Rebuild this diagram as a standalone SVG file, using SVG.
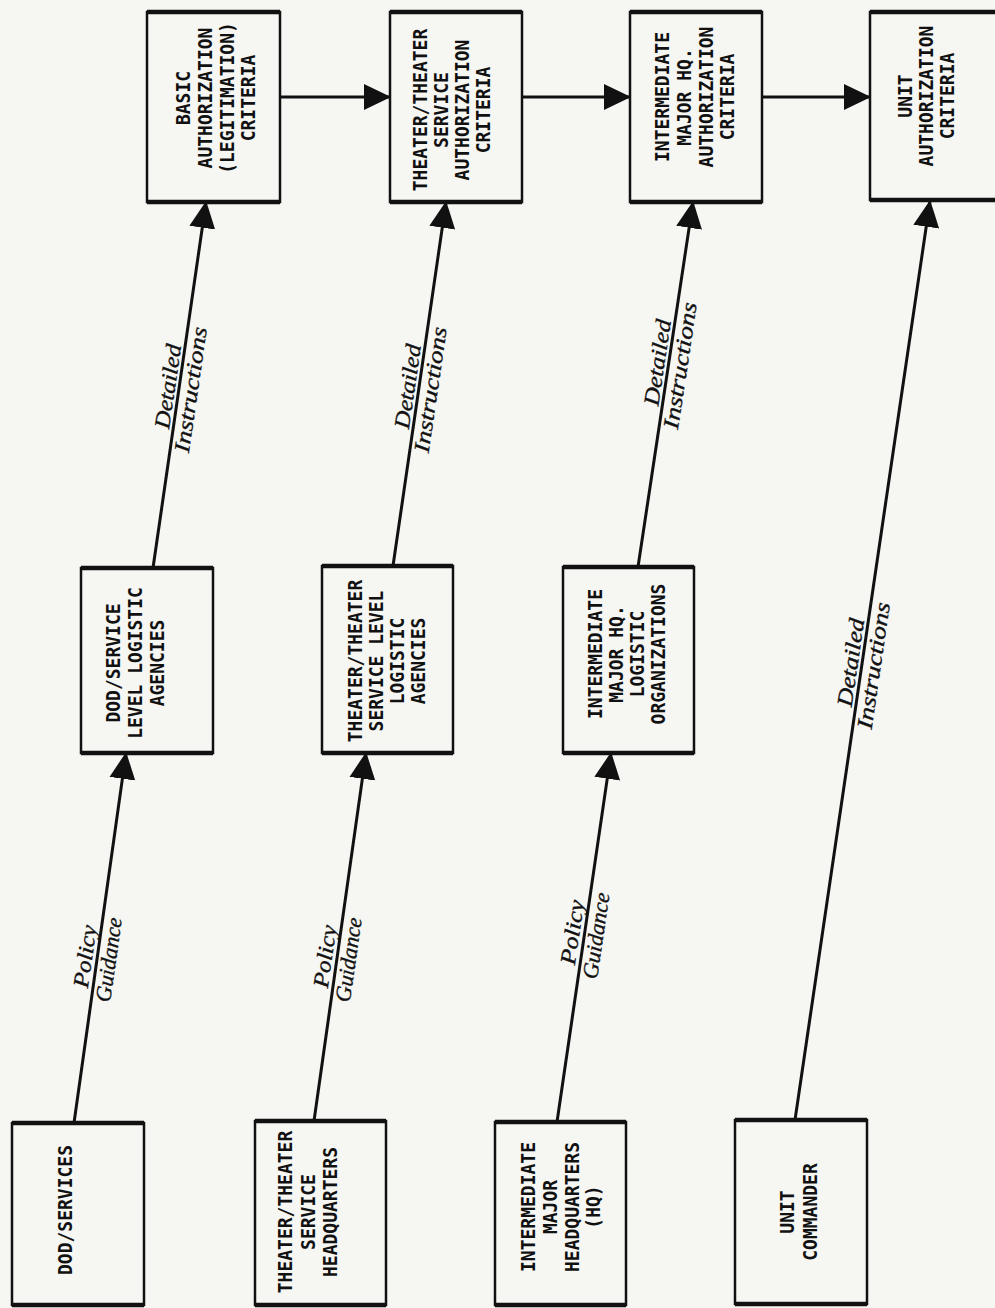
<svg xmlns="http://www.w3.org/2000/svg" width="995" height="1308" viewBox="0 0 995 1308">
<defs>
<style>
.bg{fill:#f6f6f3}
.box{fill:none;stroke:#111;stroke-width:2.5}
.edge{stroke:#111;stroke-width:4.5;fill:none}
.lbl{font-family:"DejaVu Sans Mono","Liberation Mono",monospace;font-weight:bold;font-size:20px;fill:#111;text-anchor:middle}
.it{font-family:"Liberation Serif","DejaVu Serif",serif;font-style:italic;font-size:22px;fill:#111;text-anchor:middle;stroke:#111;stroke-width:0.35}
.conn{stroke:#111;stroke-width:3;fill:none;marker-end:url(#ah)}
</style>
<marker id="ah" markerUnits="userSpaceOnUse" markerWidth="27" markerHeight="27" viewBox="0 0 27 27" refX="26" refY="13.5" orient="auto">
<path d="M0,0.5 L27,13.5 L0,26.5 z" fill="#111"/>
</marker>
</defs>
<rect class="bg" x="0" y="0" width="995" height="1308"/>

<g id="connectors">
<line class="conn" x1="280" y1="97" x2="390" y2="97"/>
<line class="conn" x1="522" y1="97" x2="630" y2="97"/>
<line class="conn" x1="762" y1="97" x2="870" y2="97"/>
<line class="conn" x1="74" y1="1123" x2="126" y2="753"/>
<line class="conn" x1="314" y1="1121" x2="366" y2="753"/>
<line class="conn" x1="557" y1="1122" x2="611" y2="753"/>
<line class="conn" x1="795" y1="1120" x2="930" y2="201"/>
<line class="conn" x1="153" y1="568" x2="206" y2="202"/>
<line class="conn" x1="393" y1="566" x2="446" y2="202"/>
<line class="conn" x1="638" y1="567" x2="693" y2="202"/>
<g transform="translate(97.2,958) rotate(-82)"><text class="it" x="0" y="-5" textLength="63" lengthAdjust="spacingAndGlyphs">Policy</text><text class="it" x="0" y="19" textLength="85" lengthAdjust="spacingAndGlyphs">Guidance</text></g>
<g transform="translate(337,958) rotate(-81.96)"><text class="it" x="0" y="-5" textLength="63" lengthAdjust="spacingAndGlyphs">Policy</text><text class="it" x="0" y="19" textLength="85" lengthAdjust="spacingAndGlyphs">Guidance</text></g>
<g transform="translate(584.5,934) rotate(-81.68)"><text class="it" x="0" y="-5" textLength="65" lengthAdjust="spacingAndGlyphs">Policy</text><text class="it" x="0" y="19" textLength="87" lengthAdjust="spacingAndGlyphs">Guidance</text></g>
<g transform="translate(861.9,664) rotate(-81.65)"><text class="it" x="0" y="-4" textLength="89" lengthAdjust="spacingAndGlyphs">Detailed</text><text class="it" x="0" y="19" textLength="128" lengthAdjust="spacingAndGlyphs">Instructions</text></g>
<g transform="translate(179.1,388) rotate(-81.76)"><text class="it" x="0" y="-4" textLength="85" lengthAdjust="spacingAndGlyphs">Detailed</text><text class="it" x="0" y="19" textLength="127" lengthAdjust="spacingAndGlyphs">Instructions</text></g>
<g transform="translate(418.9,388) rotate(-81.72)"><text class="it" x="0" y="-4" textLength="85" lengthAdjust="spacingAndGlyphs">Detailed</text><text class="it" x="0" y="19" textLength="127" lengthAdjust="spacingAndGlyphs">Instructions</text></g>
<g transform="translate(668.6,364) rotate(-81.43)"><text class="it" x="0" y="-4" textLength="87" lengthAdjust="spacingAndGlyphs">Detailed</text><text class="it" x="0" y="19" textLength="128" lengthAdjust="spacingAndGlyphs">Instructions</text></g>
</g>

<g id="basic-auth">
<rect class="box" x="147" y="12" width="133" height="190"/>
<path class="edge" d="M147,12 H280 M147,202 H280"/>
<text class="lbl" transform="translate(190.3,98) rotate(-90) scale(0.9,1)"><tspan x="0" y="0">BASIC</tspan><tspan x="0" dy="21.7">AUTHORIZATION</tspan><tspan x="0" dy="21.7">(LEGITIMATION)</tspan><tspan x="0" dy="21.7">CRITERIA</tspan></text>
</g>

<g id="theater-auth">
<rect class="box" x="390" y="12" width="132" height="190"/>
<path class="edge" d="M390,12 H522 M390,202 H522"/>
<text class="lbl" transform="translate(427.3,110) rotate(-90) scale(0.9,1)"><tspan x="0" y="0">THEATER/THEATER</tspan><tspan x="0" dy="21">SERVICE</tspan><tspan x="0" dy="21">AUTHORIZATION</tspan><tspan x="0" dy="21">CRITERIA</tspan></text>
</g>

<g id="intermediate-auth">
<rect class="box" x="630" y="12" width="132" height="190"/>
<path class="edge" d="M630,12 H762 M630,202 H762"/>
<text class="lbl" transform="translate(669.3,97) rotate(-90) scale(0.9,1)"><tspan x="0" y="0">INTERMEDIATE</tspan><tspan x="0" dy="21.7">MAJOR HQ.</tspan><tspan x="0" dy="21.7">AUTHORIZATION</tspan><tspan x="0" dy="21.7">CRITERIA</tspan></text>
</g>

<g id="unit-auth">
<rect class="box" x="870" y="12" width="140" height="188"/>
<path class="edge" d="M870,12 H1000 M870,200 H1000"/>
<text class="lbl" transform="translate(912.3,96) rotate(-90) scale(0.9,1)"><tspan x="0" y="0">UNIT</tspan><tspan x="0" dy="21">AUTHORIZATION</tspan><tspan x="0" dy="21">CRITERIA</tspan></text>
</g>

<g id="dod-service-level">
<rect class="box" x="81" y="568" width="132" height="185"/>
<path class="edge" d="M81,568 H213 M81,753 H213"/>
<text class="lbl" transform="translate(120.3,663) rotate(-90) scale(0.9,1)"><tspan x="0" y="0">DOD/SERVICE</tspan><tspan x="0" dy="22">LEVEL LOGISTIC</tspan><tspan x="0" dy="22">AGENCIES</tspan></text>
</g>

<g id="theater-service-level">
<rect class="box" x="322" y="566" width="131" height="187"/>
<path class="edge" d="M322,566 H453 M322,753 H453"/>
<text class="lbl" transform="translate(362.3,661) rotate(-90) scale(0.9,1)"><tspan x="0" y="0">THEATER/THEATER</tspan><tspan x="0" dy="21">SERVICE LEVEL</tspan><tspan x="0" dy="21">LOGISTIC</tspan><tspan x="0" dy="21">AGENCIES</tspan></text>
</g>

<g id="intermediate-logistic">
<rect class="box" x="563" y="567" width="131" height="186"/>
<path class="edge" d="M563,567 H694 M563,753 H694"/>
<text class="lbl" transform="translate(602.3,654) rotate(-90) scale(0.9,1)"><tspan x="0" y="0">INTERMEDIATE</tspan><tspan x="0" dy="21">MAJOR HQ.</tspan><tspan x="0" dy="21">LOGISTIC</tspan><tspan x="0" dy="21">ORGANIZATIONS</tspan></text>
</g>

<g id="dod-services">
<rect class="box" x="12" y="1123" width="132" height="182"/>
<path class="edge" d="M12,1123 H144 M12,1305 H144"/>
<text class="lbl" transform="translate(72.3,1210) rotate(-90) scale(0.9,1)"><tspan x="0" y="0">DOD/SERVICES</tspan></text>
</g>

<g id="theater-hq">
<rect class="box" x="255" y="1121" width="131" height="184"/>
<path class="edge" d="M255,1121 H386 M255,1305 H386"/>
<text class="lbl" transform="translate(292.3,1212) rotate(-90) scale(0.9,1)"><tspan x="0" y="0">THEATER/THEATER</tspan><tspan x="0" dy="22.5">SERVICE</tspan><tspan x="0" dy="22.5">HEADQUARTERS</tspan></text>
</g>

<g id="intermediate-hq">
<rect class="box" x="495" y="1122" width="131" height="183"/>
<path class="edge" d="M495,1122 H626 M495,1305 H626"/>
<text class="lbl" transform="translate(535.3,1207) rotate(-90) scale(0.9,1)"><tspan x="0" y="0">INTERMEDIATE</tspan><tspan x="0" dy="21.7">MAJOR</tspan><tspan x="0" dy="21.7">HEADQUARTERS</tspan><tspan x="0" dy="21.7">(HQ)</tspan></text>
</g>

<g id="unit-commander">
<rect class="box" x="735" y="1120" width="132" height="184"/>
<path class="edge" d="M735,1120 H867 M735,1304 H867"/>
<text class="lbl" transform="translate(794.3,1212) rotate(-90) scale(0.9,1)"><tspan x="0" y="0">UNIT</tspan><tspan x="0" dy="23">COMMANDER</tspan></text>
</g>
</svg>
